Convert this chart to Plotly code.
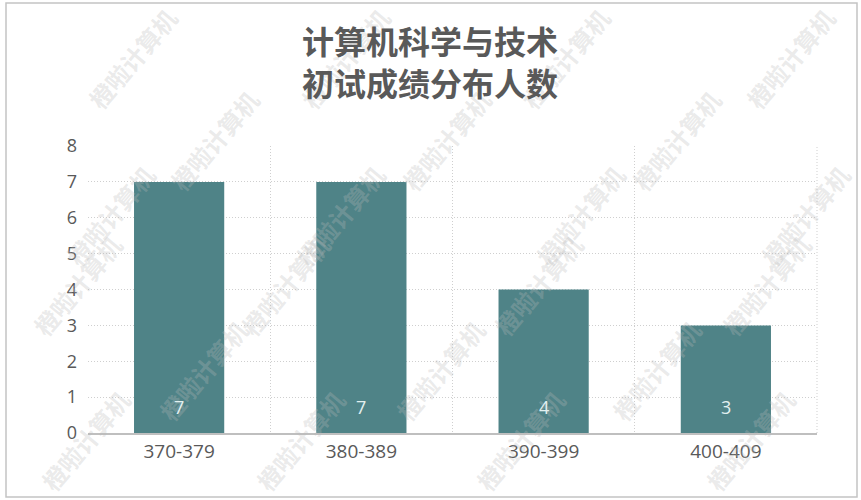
import plotly.graph_objects as go

categories = ["370-379", "380-389", "390-399", "400-409"]
counts = [7, 7, 4, 3]
y_ticks = [0, 1, 2, 3, 4, 5, 6, 7, 8]
title_lines = ["计算机科学与技术", "初试成绩分布人数"]
watermark = "橙啦计算机"

W, H = 861, 500
L, R, T, B = 88, 44, 146, 67
pw, ph = W - L - R, H - T - B

def px_x(x):
    return (x - L) / pw

def px_y(y):
    return (H - B - y) / ph

# watermark placement (pixel rows: y, list of x centres)
wm_rows = [
    (58, [132, 345, 565, 790]),
    (140, [214, 446, 676]),
    (215, [110, 340, 580, 805]),
    (285, [77, 285, 538, 766]),
    (370, [203, 440, 656]),
    (440, [85, 300, 520, 750]),
]

fig = go.Figure()
fig.add_trace(go.Bar(
    x=categories, y=counts,
    marker=dict(color="#4f8387", line=dict(width=0)),
    width=0.495,
    hoverinfo="skip",
))

annotations = []
for wy, xs in wm_rows:
    for wx in xs:
        annotations.append(dict(
            x=px_x(wx), y=px_y(wy), xref="paper", yref="paper",
            xanchor="center", yanchor="middle",
            text="<b>" + watermark + "</b>", showarrow=False, textangle=-50,
            font=dict(family="Noto Sans CJK SC", size=24, color="rgba(185,185,185,0.3)"),
        ))

for c, v in zip(categories, counts):
    annotations.append(dict(
        x=c, y=0, xref="x", yref="y", text=str(v), showarrow=False,
        yanchor="middle", yshift=26,
        font=dict(family="Open Sans, Noto Sans CJK SC", size=18, color="#e2f0f0"),
    ))

annotations.append(dict(
    text="<b>" + "<br>".join(title_lines) + "</b>",
    x=px_x(430), y=px_y(61), xref="paper", yref="paper",
    xanchor="center", yanchor="middle", showarrow=False, align="center",
    font=dict(family="Noto Sans CJK SC", size=32, color="#595959"),
))

fig.update_layout(
    width=W, height=H,
    margin=dict(l=L, r=R, t=T, b=B),
    paper_bgcolor="white", plot_bgcolor="white",
    showlegend=False,
    xaxis=dict(
        type="category", tickson="boundaries",
        showgrid=True, gridcolor="#cfcfcf", griddash="1px,2px", gridwidth=1,
        showline=True, linecolor="#bfbfbf", linewidth=1.5,
        ticks="", tickfont=dict(family="Open Sans, Noto Sans CJK SC", size=19, color="#595959"),
        range=[-0.5, 3.5], fixedrange=True,
    ),
    yaxis=dict(
        range=[0, 8], tickvals=y_ticks,
        showgrid=True, gridcolor="#cfcfcf", griddash="1px,2px", gridwidth=1,
        zeroline=False, showline=False, ticks="",
        ticklabelstandoff=10,
        tickfont=dict(family="Open Sans, Noto Sans CJK SC", size=18, color="#595959"),
    ),
    annotations=annotations,
    shapes=[dict(
        type="rect", xref="paper", yref="paper",
        x0=px_x(6), x1=px_x(857), y0=px_y(497), y1=px_y(3),
        line=dict(color="#c4c4c4", width=1.5), fillcolor="rgba(0,0,0,0)", layer="above",
    ), dict(
        type="line", xref="paper", yref="paper",
        x0=1, x1=1, y0=0, y1=1,
        line=dict(color="#cfcfcf", width=1, dash="1px,2px"),
    )],
)

fig.write_html("out.html", config={"displayModeBar": False},
               post_script="document.body.style.margin='0';")
